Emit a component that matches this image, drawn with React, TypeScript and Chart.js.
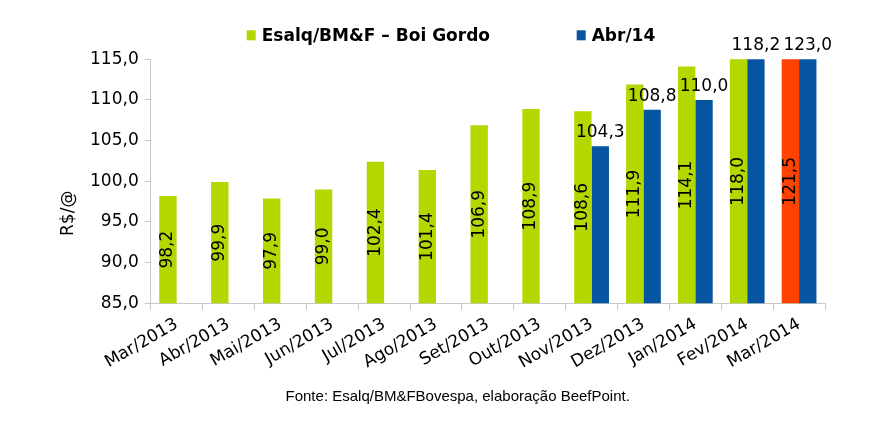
import React, { useEffect, useRef } from "react";
import { Chart, registerables } from "chart.js";

Chart.register(...registerables);

const categories = [
  "Mar/2013", "Abr/2013", "Mai/2013", "Jun/2013", "Jul/2013", "Ago/2013", "Set/2013",
  "Out/2013", "Nov/2013", "Dez/2013", "Jan/2014", "Fev/2014", "Mar/2014",
];
const boiGordo = [98.2, 99.9, 97.9, 99.0, 102.4, 101.4, 106.9, 108.9, 108.6, 111.9, 114.1, 118.0, 121.5];
const abr14 = [null, null, null, null, null, null, null, null, 104.3, 108.8, 110.0, 118.2, 123.0];
const seriesNames = ["Esalq/BM&F \u2013 Boi Gordo", "Abr/14"];
const yTitle = "R$/@";
const sourceText = "Fonte: Esalq/BM&FBovespa, elaboração BeefPoint.";

const GREEN = "#b2d800";
const RED = "#ff4200";
const BLUE = "#0555a0";
const AXIS = "#c8c8c8";
const FONT = '"DejaVu Sans", Verdana, sans-serif';

const fmt = (v: number) => v.toFixed(1).replace(".", ",");

const overlayPlugin = {
  id: "overlay",
  afterDatasetsDraw(chart: any) {
    const { ctx, chartArea } = chart;
    ctx.save();
    ctx.fillStyle = "#000";
    ctx.font = `17px ${FONT}`;
    const m0 = chart.getDatasetMeta(0);
    m0.data.forEach((bar: any, i: number) => {
      const v = boiGordo[i];
      if (v == null) return;
      const top = Math.max(bar.y, chartArea.top);
      const bottom = Math.min(bar.base, chartArea.bottom);
      ctx.save();
      ctx.translate(bar.x, (top + bottom) / 2);
      ctx.rotate(-Math.PI / 2);
      ctx.textAlign = "center";
      ctx.textBaseline = "middle";
      ctx.fillText(fmt(v), 0, 0);
      ctx.restore();
    });
    const m1 = chart.getDatasetMeta(1);
    m1.data.forEach((bar: any, i: number) => {
      const v = abr14[i];
      if (v == null) return;
      const top = Math.max(bar.y, chartArea.top);
      ctx.textAlign = "center";
      ctx.textBaseline = "alphabetic";
      ctx.fillText(fmt(v), bar.x, top - 9);
    });
    // y axis title
    ctx.save();
    ctx.translate(chartArea.left - 82, chartArea.top + 154);
    ctx.rotate(-Math.PI / 2);
    ctx.textAlign = "center";
    ctx.textBaseline = "middle";
    ctx.fillText(yTitle, 0, 0);
    ctx.restore();
    // legend
    ctx.font = `bold 17px ${FONT}`;
    ctx.textAlign = "left";
    ctx.textBaseline = "middle";
    const ly = chartArea.top - 24;
    const items = [
      { x: chartArea.left + 96, color: GREEN, text: seriesNames[0] },
      { x: chartArea.left + 426, color: BLUE, text: seriesNames[1] },
    ];
    items.forEach((it) => {
      ctx.fillStyle = it.color;
      ctx.fillRect(it.x, ly - 5, 9, 10);
      ctx.fillStyle = "#000";
      ctx.fillText(it.text, it.x + 15, ly + 1);
    });
    // source
    ctx.font = `15px "Liberation Sans", Arial, sans-serif`;
    ctx.textAlign = "center";
    ctx.textBaseline = "alphabetic";
    ctx.fillStyle = "#000";
    ctx.fillText(sourceText, chartArea.left + 307, 401);
    ctx.restore();
  },
};

export default function App() {
  const ref = useRef<HTMLCanvasElement>(null);
  useEffect(() => {
    document.body.style.margin = "0";
    const chart = new Chart(ref.current!, {
      type: "bar",
      data: {
        labels: categories,
        datasets: [
          {
            label: seriesNames[0],
            data: boiGordo,
            backgroundColor: boiGordo.map((_, i) => (i === boiGordo.length - 1 ? RED : GREEN)),
            borderWidth: 0,
            categoryPercentage: 0.67,
            barPercentage: 1,
          },
          {
            label: seriesNames[1],
            data: abr14,
            backgroundColor: BLUE,
            borderWidth: 0,
            categoryPercentage: 0.67,
            barPercentage: 1,
          },
        ],
      },
      options: {
        animation: false,
        responsive: true,
        maintainAspectRatio: false,
        layout: { padding: { left: 0, right: 55, top: 59.3, bottom: 0 } },
        plugins: {
          legend: { display: false },
          tooltip: { enabled: false },
        },
        font: { family: FONT },
        scales: {
          x: {
            grid: { drawOnChartArea: false, drawTicks: true, tickLength: 7, color: AXIS, offset: true },
            border: { color: AXIS },
            ticks: {
              color: "#000",
              font: { family: FONT, size: 17 },
              minRotation: 30,
              maxRotation: 30,
              autoSkip: false,
              padding: 4,
            },
            afterFit: (s: any) => {
              s.height = 130.7;
            },
          },
          y: {
            min: 85,
            max: 115,
            grid: { drawOnChartArea: false, drawTicks: true, tickLength: 6, color: AXIS },
            border: { color: AXIS },
            ticks: {
              stepSize: 5,
              color: "#000",
              font: { family: FONT, size: 17 },
              padding: 6,
              callback: (v: any) => fmt(Number(v)),
            },
            afterFit: (s: any) => {
              s.width = 150.7;
            },
          },
        },
      } as any,
      plugins: [overlayPlugin],
    });
    return () => chart.destroy();
  }, []);
  return (
    <div style={{ position: "absolute", left: 0, top: 0, width: 880, height: 434, background: "#fff" }}>
      <canvas ref={ref} />
    </div>
  );
}
